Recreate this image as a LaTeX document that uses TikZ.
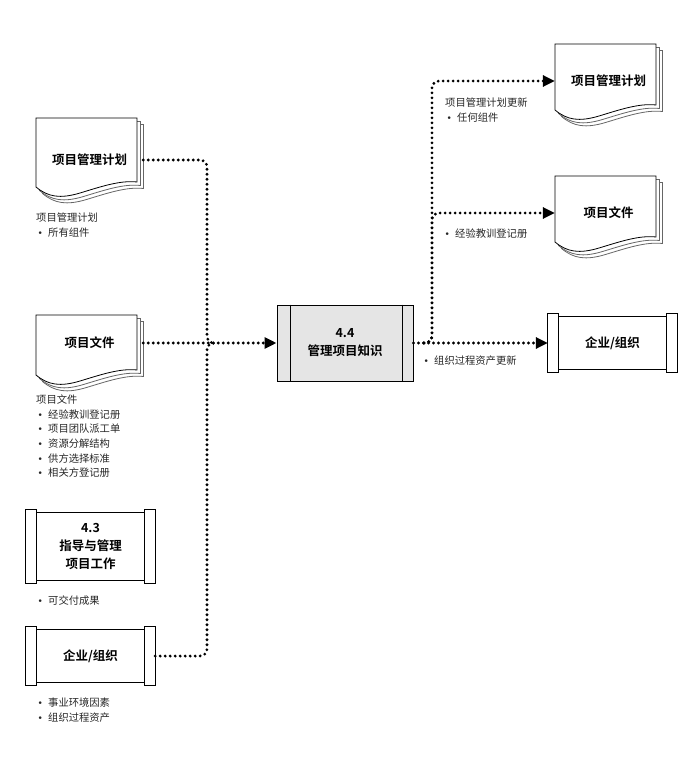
\documentclass[tikz,border=0pt]{standalone}
\usepackage{fontspec}
\setmainfont{Noto Sans CJK SC}[BoldFont={Noto Sans CJK SC Bold}]
\newfontfamily\symfont{DejaVu Sans}
\usetikzlibrary{positioning, arrows.meta, calc}

\tikzset{
  flow/.style={line width=3.1pt, line cap=round, dash pattern=on 0pt off 5pt, rounded corners=7pt},
  tip/.style={-{Triangle[length=12pt,width=11pt]}},
  doc/.style={minimum width=107pt, minimum height=40pt, inner sep=0pt, font=\fontsize{12.5}{15}\selectfont\bfseries},
  proc/.style={inner sep=0pt, align=center, font=\fontsize{12.5}{18}\selectfont\bfseries},
  note/.style={anchor=north west, inner sep=0pt, align=left, text=black!85, font=\fontsize{10.3}{14.7}\selectfont}
}
% bullet in the notes
\newcommand{\itm}{\makebox[12pt][l]{\hspace{1.5pt}{\symfont\fontsize{9}{9}\selectfont •}}}
% stacked document sheets: x, y (top left), height of left edge
\newcommand{\sheets}[3]{%
  \foreach \d/\c in {6.5/black!60, 3.5/black!60, 0/black}{
    \filldraw[fill=white, draw=\c, line width=0.8pt, shift={(#1+\d,#2+\d)}]
      (0,0) -- (0,#3) .. controls (12,#3+10) and (24,#3+12) .. (44,#3+6)
      .. controls (64,#3) and (84,#3-7) .. (101,#3-5) -- (101,0) -- cycle;
  }}
% end caps of a process box
\newcommand{\scrollbox}[1]{%
  \draw[line width=1pt] ($(#1.north west)+(11,3)$) rectangle ($(#1.south east)+(-11,-3)$);
  \draw[line width=1pt, fill=white] (#1.north west) rectangle ($(#1.south west)+(11,0)$);
  \draw[line width=1pt, fill=white] ($(#1.north east)+(-11,0)$) rectangle (#1.south east);}

\begin{document}
\begin{tikzpicture}[x=1pt, y=-1pt]
  \useasboundingbox (0,0) rectangle (695,767);

  % inputs
  \sheets{36}{118}{69}
  \node[doc] (pmpIn) at (89.5,160) {项目管理计划};
  \node[note] (pmpInNote) at (36,212.5) {项目管理计划\\\itm 所有组件};

  \sheets{36}{315}{60}
  \node[doc] (pdIn) at (89.5,343) {项目文件};
  \node[note] (pdInNote) at (36,394.5) {项目文件\\\itm 经验教训登记册\\\itm 项目团队派工单\\\itm 资源分解结构\\\itm 供方选择标准\\\itm 相关方登记册};

  \node[proc, minimum width=129pt, minimum height=73pt] (dmw) at (90.5,546.5) {4.3\\指导与管理\\项目工作};
  \scrollbox{dmw}
  \node[note] (dmwNote) at (36,595.5) {\itm 可交付成果};

  \node[proc, minimum width=129pt, minimum height=58pt] (eefIn) at (90.5,656) {企业/组织};
  \scrollbox{eefIn}
  \node[note] (eefInNote) at (36,697.5) {\itm 事业环境因素\\\itm 组织过程资产};

  % process
  \node[proc, draw, line width=1pt, fill=black!10, minimum width=136pt, minimum height=76pt] (mpk) at (345,343) {4.4\\管理项目知识};
  \draw[line width=1pt] ($(mpk.north west)+(14,0)$) -- ($(mpk.south west)+(14,0)$);
  \draw[line width=1pt] ($(mpk.north east)+(-11,0)$) -- ($(mpk.south east)+(-11,0)$);

  % outputs
  \sheets{555}{44}{66}
  \node[doc] (pmpOut) at (608.5,81) {项目管理计划};
  \node[note] (pmpOutNote) at (445,97.5) {项目管理计划更新\\\itm 任何组件};

  \sheets{555}{176}{66}
  \node[doc] (pdOut) at (608.5,213) {项目文件};
  \node[note] (pdOutNote) at (443,228.5) {\itm 经验教训登记册};

  \node[proc, minimum width=129pt, minimum height=59pt] (eoOut) at (612.5,343) {企业/组织};
  \scrollbox{eoOut}
  \node[note] (eoOutNote) at (422,355.5) {\itm 组织过程资产更新};

  % connectors
  \coordinate (jl) at (207,343);
  \coordinate (jlEnd) at (216,343);
  \coordinate (jrStart) at (424,343);
  \coordinate (jr) at (432,343);
  \draw[flow] (pmpIn.east) -| (jl) -- (jlEnd);
  \draw[flow] (eefIn.east) -| (jl) -- (jlEnd);
  \draw[flow, tip] (pdIn.east) -- (mpk.west);
  \draw[flow, tip] (mpk.east) -- (eoOut.west);
  \draw[flow, tip] (jrStart) -- (jr) |- (pmpOut.west);
  \draw[flow, tip] (jrStart) -- (jr) |- (pdOut.west);
\end{tikzpicture}
\end{document}
